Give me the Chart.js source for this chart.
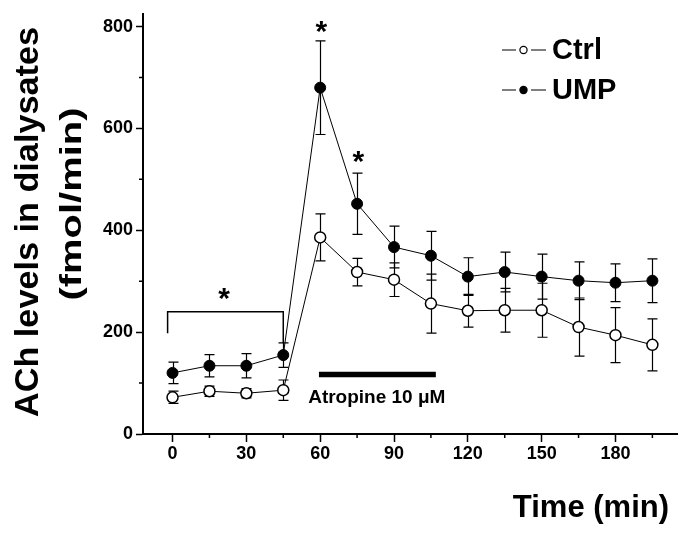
<!DOCTYPE html>
<html><head><meta charset="utf-8">
<script src="https://cdn.jsdelivr.net/npm/chart.js@4/dist/chart.umd.min.js"></script>
<style>html,body{margin:0;padding:0;background:#fff}#wrap{width:689px;height:535px;position:relative}</style>
</head><body><div id="wrap"><canvas id="c" width="689" height="535"></canvas></div>
<script>
// ---- data ----
const times = [0, 15, 30, 45, 60, 75, 90, 105, 120, 135, 150, 165, 180, 195];
const ctrlMean = [72, 84, 80, 86, 386, 318, 303, 256, 242, 243, 243, 210, 194, 175];
const ctrlSem  = [12, 10, 9, 20, 46, 27, 33, 58, 32, 43, 53, 57, 54, 51];
const umpMean  = [120, 134, 134, 155, 680, 452, 367, 350, 309, 318, 309, 301, 297, 301];
const umpSem   = [21, 22, 24, 24, 92, 60, 41, 48, 37, 39, 44, 37, 37, 43];
const xTickValues = [0, 30, 60, 90, 120, 150, 180];
const xMinorValues = [15, 45, 75, 105, 135, 165, 195];
const yTickValues = [0, 200, 400, 600, 800];
const yMinorValues = [100, 300, 500, 700];
const seriesNames = ['Ctrl', 'UMP'];
// annotations (data coordinates)
const starX = [21, 60.5, 75.5];
const starY = [274, 798, 542];
const bracketX = [-2, 45];
const bracketY = [240, 198, 178]; // top, left end, right end
const atropineX = [59.5, 107];
const atropineY = 117;
const atropineLabel = 'Atropine 10 \u03BCM';
const atropineLabelPos = [83, 72];

const FONT = "'Liberation Sans', Arial, Helvetica, sans-serif";

const extras = {
  id: 'extras',
  beforeDatasetsDraw(chart) {
    const ctx = chart.ctx, xs = chart.scales.x, ys = chart.scales.y;
    ctx.save();
    ctx.strokeStyle = '#000';
    ctx.lineWidth = 1.2;
    const sets = [[ctrlMean, ctrlSem], [umpMean, umpSem]];
    sets.forEach(([m, s]) => {
      times.forEach((t, i) => {
        const px = Math.round(xs.getPixelForValue(t)) + 0.5;
        const top = ys.getPixelForValue(m[i] + s[i]);
        const bot = ys.getPixelForValue(m[i] - s[i]);
        ctx.beginPath();
        ctx.moveTo(px, top); ctx.lineTo(px, bot);
        ctx.moveTo(px - 5, top); ctx.lineTo(px + 5, top);
        ctx.moveTo(px - 5, bot); ctx.lineTo(px + 5, bot);
        ctx.stroke();
      });
    });
    ctx.restore();
  },
  afterDraw(chart) {
    const ctx = chart.ctx, xs = chart.scales.x, ys = chart.scales.y;
    const ca = chart.chartArea;
    ctx.save();
    ctx.strokeStyle = '#000';
    ctx.fillStyle = '#000';
    // minor ticks
    ctx.lineWidth = 1.5;
    ctx.beginPath();
    xMinorValues.forEach(v => {
      const px = xs.getPixelForValue(v);
      ctx.moveTo(px, ca.bottom); ctx.lineTo(px, ca.bottom + 4);
    });
    yMinorValues.forEach(v => {
      const py = ys.getPixelForValue(v);
      ctx.moveTo(ca.left, py); ctx.lineTo(ca.left - 4, py);
    });
    ctx.stroke();

    // bracket
    ctx.lineWidth = 1.5;
    const bx0 = xs.getPixelForValue(bracketX[0]), bx1 = xs.getPixelForValue(bracketX[1]);
    const byTop = ys.getPixelForValue(bracketY[0]);
    ctx.beginPath();
    ctx.moveTo(bx0, ys.getPixelForValue(bracketY[1]));
    ctx.lineTo(bx0, byTop);
    ctx.lineTo(bx1, byTop);
    ctx.lineTo(bx1, ys.getPixelForValue(bracketY[2]));
    ctx.stroke();

    // stars
    ctx.font = 'bold 30px ' + FONT;
    ctx.textAlign = 'center';
    ctx.textBaseline = 'alphabetic';
    starX.forEach((sx, i) => {
      ctx.fillText('*', xs.getPixelForValue(sx), ys.getPixelForValue(starY[i]) + 0.45 * 30);
    });

    // atropine bar
    ctx.lineWidth = 5.5;
    ctx.lineCap = 'butt';
    ctx.beginPath();
    const ay = ys.getPixelForValue(atropineY);
    ctx.moveTo(xs.getPixelForValue(atropineX[0]), ay);
    ctx.lineTo(xs.getPixelForValue(atropineX[1]), ay);
    ctx.stroke();
    ctx.font = 'bold 19px ' + FONT;
    ctx.textBaseline = 'middle';
    ctx.fillText(atropineLabel, xs.getPixelForValue(atropineLabelPos[0]), ys.getPixelForValue(atropineLabelPos[1]));

    // legend
    const legendY = [50, 90];
    seriesNames.forEach((name, i) => {
      const y = legendY[i];
      ctx.lineWidth = 1.2;
      ctx.beginPath();
      ctx.moveTo(502, y); ctx.lineTo(516, y);
      ctx.moveTo(531, y); ctx.lineTo(546, y);
      ctx.stroke();
      ctx.beginPath();
      ctx.arc(523.5, y, 3.6, 0, Math.PI * 2);
      ctx.fillStyle = i === 0 ? '#fff' : '#000';
      ctx.fill();
      ctx.lineWidth = 1.2;
      ctx.stroke();
      ctx.fillStyle = '#000';
      ctx.font = 'bold 29px ' + FONT;
      ctx.textAlign = 'left';
      ctx.textBaseline = 'middle';
      ctx.fillText(name, 552, y + 1);
    });

    // axis titles
    ctx.textAlign = 'center';
    ctx.textBaseline = 'middle';
    function drawRot(text, cx, cy, size, targetW) {
      ctx.save();
      ctx.translate(cx, cy);
      ctx.rotate(-Math.PI / 2);
      ctx.font = 'bold ' + size + 'px ' + FONT;
      const w = ctx.measureText(text).width;
      ctx.scale(targetW / w, 1);
      ctx.fillText(text, 0, 0);
      ctx.restore();
    }
    drawRot('ACh levels in dialysates', 29, 222, 33, 390);
    drawRot('(fmol/min)', 73, 204, 30, 193);

    ctx.font = 'bold 31px ' + FONT;
    ctx.textAlign = 'right';
    ctx.textBaseline = 'middle';
    ctx.fillText('Time (min)', 669, 508);
    ctx.restore();
  }
};

const ctx = document.getElementById('c').getContext('2d');
new Chart(ctx, {
  type: 'line',
  data: {
    datasets: [
      {
        label: seriesNames[0],
        data: times.map((t, i) => ({ x: t, y: ctrlMean[i] })),
        borderColor: '#000', borderWidth: 1,
        pointRadius: 5.5, pointBackgroundColor: '#fff', pointBorderColor: '#000', pointBorderWidth: 1.5,
        tension: 0
      },
      {
        label: seriesNames[1],
        data: times.map((t, i) => ({ x: t, y: umpMean[i] })),
        borderColor: '#000', borderWidth: 1,
        pointRadius: 5.5, pointBackgroundColor: '#000', pointBorderColor: '#000', pointBorderWidth: 1,
        tension: 0
      }
    ]
  },
  options: {
    responsive: false,
    animation: false,
    devicePixelRatio: 1,
    layout: { padding: { left: 0, right: 12, top: 9, bottom: 0 } },
    plugins: { legend: { display: false }, tooltip: { enabled: false } },
    scales: {
      x: {
        type: 'linear', min: -12, max: 205,
        afterBuildTicks: s => { s.ticks = xTickValues.map(v => ({ value: v })); },
        afterFit: s => { s.height = 101; },
        grid: { display: true, drawOnChartArea: false, drawTicks: true, tickLength: 8, tickColor: '#000', tickWidth: 1.5 },
        border: { display: true, color: '#000', width: 2 },
        ticks: { color: '#000', font: { family: FONT, size: 18, weight: 'bold' }, padding: 1, maxRotation: 0 }
      },
      y: {
        type: 'linear', min: 0, max: 825,
        afterBuildTicks: s => { s.ticks = yTickValues.map(v => ({ value: v })); },
        afterFit: s => { s.width = 143; },
        grid: { display: true, drawOnChartArea: false, drawTicks: true, tickLength: 7, tickColor: '#000', tickWidth: 1.5 },
        border: { display: true, color: '#000', width: 2 },
        ticks: { color: '#000', font: { family: FONT, size: 18, weight: 'bold' }, padding: 3 }
      }
    }
  },
  plugins: [extras]
});
</script>
</body></html>
